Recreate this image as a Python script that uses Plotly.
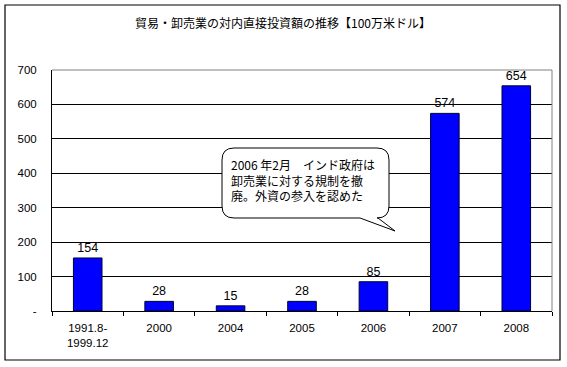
import plotly.graph_objects as go

categories = ["1991.8-<br>1999.12", "2000", "2004", "2005", "2006", "2007", "2008"]
values = [154, 28, 15, 28, 85, 574, 654]
y_ticks = [0, 100, 200, 300, 400, 500, 600, 700]
y_tick_labels = ["-", "100", "200", "300", "400", "500", "600", "700"]
title_text = "貿易・卸売業の対内直接投資額の推移【100万米ドル】"
note_lines = ["2006 年2月　インド政府は", "卸売業に対する規制を撤", "廃。外資の参入を認めた"]

FONT = "Noto Sans CJK JP, Noto Sans, sans-serif"
NUMFONT = "Liberation Sans, Arial, sans-serif"

fig = go.Figure(go.Bar(
    x=categories, y=values,
    marker=dict(color="#0000FF", line=dict(color="#000033", width=1)),
    width=0.4,
    text=[str(v) for v in values], textposition="outside",
    textfont=dict(size=12.5, color="#000000", family=NUMFONT),
    cliponaxis=False,
))

W, H = 567, 367
L, R, T, B = 52, 15, 70, 56
pw, ph = W - L - R, H - T - B

def px(x):
    return (x - L) / pw

def py(y):
    return (H - B - y) / ph

shapes = []
# outer border
shapes.append(dict(type="rect", xref="paper", yref="paper",
                   x0=px(5), x1=px(560), y0=py(360), y1=py(5),
                   line=dict(color="#000000", width=1.2), layer="below"))
# top and right plot border in gray
shapes.append(dict(type="line", xref="paper", yref="paper", x0=0, x1=1, y0=1, y1=1,
                   line=dict(color="#808080", width=1), layer="above"))
shapes.append(dict(type="line", xref="paper", yref="paper", x0=1, x1=1, y0=0, y1=1,
                   line=dict(color="#808080", width=1), layer="above"))

# speech bubble
bl, br, bt, bb = 222, 389, 148, 218
r = 12
pts = [
    ("M", bl + r, bt),
    ("L", br - r, bt),
    ("Q", br, bt, br, bt + r),
    ("L", br, bb - r),
    ("Q", br, bb, br - r, bb),
    ("L", 378, bb),
    ("L", 395, 231),
    ("L", 360, bb),
    ("L", bl + r, bb),
    ("Q", bl, bb, bl, bb - r),
    ("L", bl, bt + r),
    ("Q", bl, bt, bl + r, bt),
]
path = ""
for p in pts:
    cmd = p[0]
    coords = p[1:]
    segs = []
    for i in range(0, len(coords), 2):
        segs.append(f"{px(coords[i]):.4f},{py(coords[i+1]):.4f}")
    path += cmd + " " + " ".join(segs) + " "
path += "Z"
shapes.append(dict(type="path", xref="paper", yref="paper", path=path,
                   fillcolor="#FFFFFF", line=dict(color="#000000", width=1), layer="above"))

annotations = [
    dict(text=title_text, xref="paper", yref="paper", x=px(283), y=py(22),
         xanchor="center", yanchor="middle", showarrow=False,
         font=dict(size=12, color="#000000", family=FONT)),
    dict(text="<br>".join(note_lines), xref="paper", yref="paper", x=px(229), y=py(180),
         xanchor="left", yanchor="middle", align="left", showarrow=False,
         font=dict(size=12, color="#000000", family=FONT)),
]

fig.update_layout(
    width=W, height=H,
    margin=dict(l=L, r=R, t=T, b=B, autoexpand=False),
    paper_bgcolor="#FFFFFF", plot_bgcolor="#FFFFFF",
    showlegend=False,
    shapes=shapes, annotations=annotations,
    font=dict(family=NUMFONT, size=11, color="#000000"),
    xaxis=dict(type="category", showline=True, linecolor="#000000", linewidth=1,
               ticks="outside", tickson="boundaries", ticklen=4, tickcolor="#000000",
               ticklabelstandoff=6,
               showgrid=False, automargin=False, tickfont=dict(size=11.5, family=NUMFONT)),
    yaxis=dict(range=[0, 700], tickvals=y_ticks, ticktext=y_tick_labels,
               showline=True, linecolor="#000000", linewidth=1,
               showgrid=True, gridcolor="#000000", gridwidth=1,
               ticks="", ticklabelstandoff=12, zeroline=False, automargin=False,
               tickfont=dict(size=11.5, family=NUMFONT)),
    bargap=0.6,
)

fig.write_html("out.html", config={"displayModeBar": False},
               post_script="document.body.style.margin='0';document.body.style.overflow='hidden';")
